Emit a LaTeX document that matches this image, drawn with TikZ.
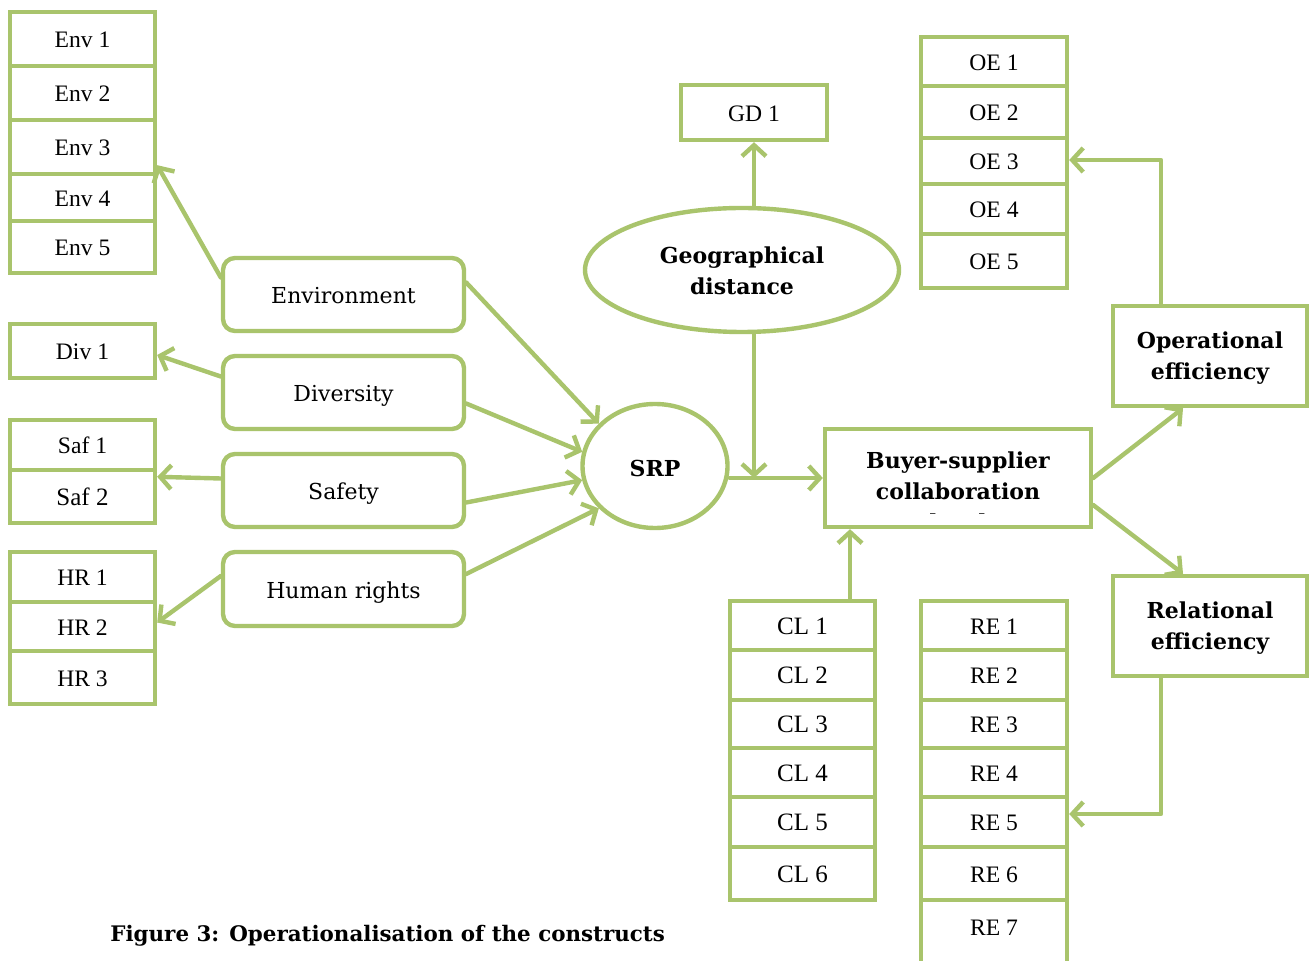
\documentclass[tikz,border=0pt]{standalone}
\usepackage{fontspec}
\setmainfont{Liberation Serif}
\newfontfamily\camfont{DejaVu Serif}
\usetikzlibrary{arrows.meta,shapes.geometric}
\definecolor{gr}{RGB}{169,196,108}
\newcommand\bx[7]{%
  \pgfmathsetmacro\bxcx{(#3+#5)/2}%
  \pgfmathsetmacro\bxcy{(#4+#6)/2}%
  \pgfmathsetmacro\bxw{(#5-#3)*0.5}%
  \pgfmathsetmacro\bxh{(#6-#4)*0.5}%
  \node[#1, minimum width=\bxw pt, minimum height=\bxh pt] (#2) at (\bxcx,\bxcy) {#7};}
\begin{document}
\begin{tikzpicture}[x=0.5pt,y=-0.5pt,
  item/.style={draw=gr, line width=2.2pt, inner sep=0pt, font=\fontsize{11.8}{13}\selectfont, text height=0.86em, text depth=0em},
  bigitem/.style={item, font=\fontsize{12.5}{14}\selectfont},
  cons/.style={draw=gr, line width=2.2pt, inner sep=0pt, rounded corners=6pt, font=\camfont\fontsize{11}{13}\selectfont, text height=0.9em, text depth=0em},
  bigbox/.style={draw=gr, line width=2.2pt, inner sep=0pt},
  btext/.style={font=\camfont\bfseries\fontsize{11}{15.5}\selectfont, align=center, inner sep=0pt},
  oval/.style={draw=gr, line width=2.2pt, ellipse, inner sep=0pt},
  conn/.style={draw=gr, line width=2.2pt, line cap=round, line join=round, -{Straight Barb[length=5.5pt,width=12pt]}}]
\useasboundingbox (0,0) rectangle (1310,961);
\fill[white] (0,0) rectangle (1310,961);
% Env column
\bx{item}{e1}{10}{12}{155}{66}{Env 1}
\bx{item}{e2}{10}{66}{155}{120}{Env 2}
\bx{item}{e3}{10}{120}{155}{174}{Env 3}
\bx{item}{e4}{10}{174}{155}{221}{Env 4}
\bx{item}{e5}{10}{221}{155}{273}{Env 5}
\bx{item}{d1}{10}{324}{155}{378}{Div 1}
\bx{item}{s1}{10}{420}{155}{470}{Saf 1}
\bx{bigitem}{s2}{10}{470}{155}{523}{Saf 2}
\bx{item}{h1}{10}{552}{155}{602}{HR 1}
\bx{item}{h2}{10}{602}{155}{651}{HR 2}
\bx{item}{h3}{10}{651}{155}{704}{HR 3}
% constructs
\bx{cons}{env}{223}{258}{464}{331}{Environment}
\bx{cons}{div}{223}{356}{464}{429}{Diversity}
\bx{cons}{saf}{223}{454}{464}{527}{Safety}
\bx{cons}{hr}{223}{552}{464}{626}{Human rights}
% SRP and GD
\node[oval, minimum width=72.5pt, minimum height=62pt] (srp) at (655,466) {};
\node[btext] (srpt) at (655,468) {SRP};
\node[oval, minimum width=157pt, minimum height=62pt] (gde) at (742,270) {};
\node[btext] (gdet) at (742,271) {Geographical\\distance};
\bx{item}{gd1}{681}{85}{827}{140}{GD 1}
% BSC
\bx{bigbox}{bsc}{825}{429}{1091}{527}{}
\begin{scope}
\clip (827,431) rectangle (1089,514);
\node[btext] (bsct) at (958,491) {Buyer-supplier\\collaboration\\level};
\end{scope}
% OE column
\bx{item}{o1}{921}{37}{1067}{86}{OE 1}
\bx{item}{o2}{921}{86}{1067}{138}{OE 2}
\bx{item}{o3}{921}{138}{1067}{184}{OE 3}
\bx{item}{o4}{921}{184}{1067}{234}{OE 4}
\bx{item}{o5}{921}{234}{1067}{288}{OE 5}
% efficiencies
\bx{bigbox}{opeff}{1113}{306}{1307}{406}{}
\node[btext] (opefft) at (1210,358) {Operational\\efficiency};
\bx{bigbox}{releff}{1113}{576}{1307}{676}{}
\node[btext] (relefft) at (1210,628) {Relational\\efficiency};
% CL column
\bx{bigitem}{c1}{730}{601}{875}{650}{CL 1}
\bx{bigitem}{c2}{730}{650}{875}{700}{CL 2}
\bx{bigitem}{c3}{730}{700}{875}{748}{CL 3}
\bx{bigitem}{c4}{730}{748}{875}{797}{CL 4}
\bx{bigitem}{c5}{730}{797}{875}{847}{CL 5}
\bx{bigitem}{c6}{730}{847}{875}{900}{CL 6}
% RE column
\bx{item}{r1}{921}{601}{1067}{650}{RE 1}
\bx{item}{r2}{921}{650}{1067}{700}{RE 2}
\bx{item}{r3}{921}{700}{1067}{748}{RE 3}
\bx{item}{r4}{921}{748}{1067}{797}{RE 4}
\bx{item}{r5}{921}{797}{1067}{847}{RE 5}
\bx{item}{r6}{921}{847}{1067}{900}{RE 6}
\bx{item}{r7}{921}{900}{1067}{1000}{}
\node[font=\fontsize{11.8}{13}\selectfont, inner sep=0pt, text height=0.86em, text depth=0em] (r7t) at (994,927) {RE 7};
% connectors
\draw[conn] ([yshift=8.5pt]env.west) -- ([yshift=5.5pt]e3.south east);
\draw[conn] ([yshift=6pt]env.east) -- (srp.143);
\draw[conn] ([yshift=8pt]div.west) -- ([yshift=-2pt]d1.east);
\draw[conn] ([yshift=-5.5pt]div.east) -- (srp.169);
\draw[conn] ([yshift=6pt]saf.west) -- ([yshift=-4.5pt]s2.north east);
\draw[conn] ([yshift=-6pt]saf.east) -- (srp.191);
\draw[conn] ([yshift=6.5pt]hr.west) -- ([yshift=2pt]h2.east);
\draw[conn] ([yshift=7.5pt]hr.east) -- (srp.217);
\draw[conn] (gde.north -| gd1.south) -- (gd1.south);
\draw[conn] (srp.east |- bsc.west) -- (bsc.west);
\draw[conn] (gde.south -| gd1.south) -- (gd1.south |- bsc.west);
\coordinate (clTop) at ([xshift=23.75pt]c1.north);
\draw[conn] (clTop) -- (clTop |- bsc.south);
\draw[conn] (bsc.east) -- ([xshift=-13.5pt]opeff.south);
\draw[conn] ([yshift=-13.5pt]bsc.east) -- ([xshift=-13.5pt]releff.north);
\coordinate (opTop) at ([xshift=-24.5pt]opeff.north);
\draw[conn] (opTop) |- ([yshift=0.5pt]o3.east);
\coordinate (reBot) at ([xshift=-24.5pt]releff.south);
\draw[conn] (reBot) |- ([yshift=4pt]r5.east);
% caption
\node[font=\camfont\bfseries\fontsize{10.7}{12}\selectfont, anchor=west, inner sep=0pt] (cap) at (110,936) {Figure 3: Operationalisation of the constructs};
\end{tikzpicture}
\end{document}
